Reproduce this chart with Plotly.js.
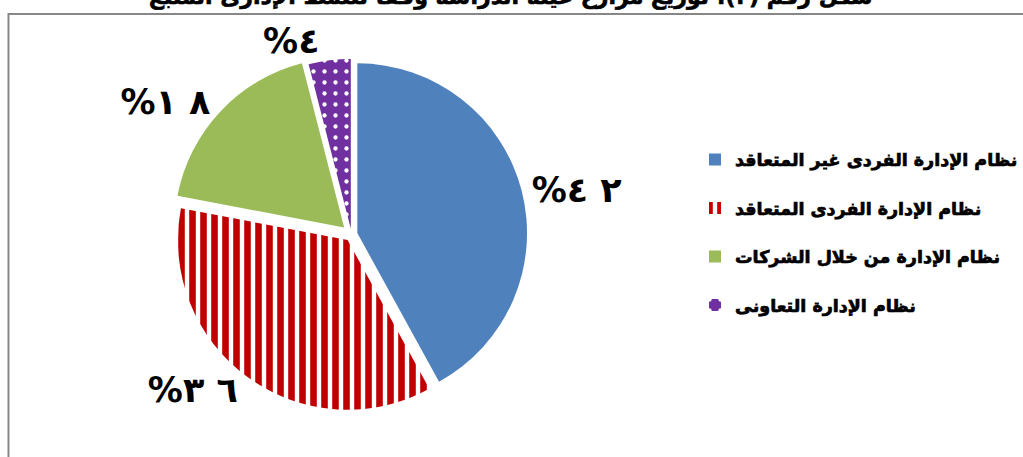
<!DOCTYPE html>
<html>
<head>
<meta charset="utf-8">
<script src="https://cdn.plot.ly/plotly-3.0.1.min.js"></script>
<style>
html,body{margin:0;padding:0;background:#fff;}
#chart{width:1023px;height:457px;}
#chart .legendtext{stroke:#000;stroke-width:0.7px;}
#chart .annotation-text{stroke:#000;stroke-width:0.6px;}
</style>
</head>
<body>
<div id="chart"></div>
<script>
// Data
const categories = [
  "نظام الإدارة الفردى غير المتعاقد",
  "نظام الإدارة الفردى المتعاقد",
  "نظام الإدارة من خلال الشركات",
  "نظام الإدارة التعاونى"
];
const shares = [42, 36, 18, 4];
const sliceColors = ["#4F81BD", "#C00000", "#9BBB59", "#7030A0"];
const chartTitle = "شكل رقم (٣): توزيع مزارع عينة الدراسة وفقاً للنمط الإدارى المتبع";

const arabicDigits = "٠١٢٣٤٥٦٧٨٩";
function toArabicPct(v){
  const d = String(v).split("").map(c => arabicDigits[+c]).join(" ");
  return "\u202D%" + d + "\u202C";
}
const pctText = shares.map(toArabicPct);
const legendLabels = categories.map(c => c + "<br> ");

const FONT = "DejaVu Sans, Arial, sans-serif";

const trace = {
  type: "pie",
  labels: legendLabels,
  values: shares,
  text: pctText,
  textinfo: "text",
  textposition: "outside",
  sort: false,
  direction: "clockwise",
  rotation: 0,
  pull: [0.035, 0.04, 0.06, 0.035],
  hoverinfo: "none",
  domain: {x: [0.168, 0.520], y: [0.0926, 0.881]},
  outsidetextfont: {family: FONT, size: 35, color: "#000", weight: "bold"},
  marker: {
    colors: sliceColors,
    line: {width: 0},
    pattern: {
      shape: ["", "|", "", "."],
      fgcolor: ["#4F81BD", "#C00000", "#9BBB59", "#FFFFFF"],
      bgcolor: ["#4F81BD", "#FFFFFF", "#9BBB59", "#7030A0"],
      fgopacity: 1,
      fillmode: "replace",
      size: [8, 11, 8, 11],
      solidity: [0.5, 0.6, 0.5, 0.12]
    }
  },
  automargin: false
};

const layout = {
  width: 1023, height: 457,
  margin: {l: 0, r: 0, t: 0, b: 0},
  paper_bgcolor: "#fff",
  showlegend: true,
  legend: {
    x: 0.68, y: 0.69, xanchor: "left", yanchor: "top",
    font: {family: FONT, size: 17.5, color: "#000", weight: "bold"},
    valign: "top",
    itemclick: false, itemdoubleclick: false,
    bgcolor: "rgba(0,0,0,0)"
  },
  annotations: [{
    text: chartTitle, showarrow: false,
    xref: "paper", yref: "paper", x: 0.5, y: 1 - 12/457,
    xanchor: "center", yanchor: "bottom",
    font: {family: FONT, size: 22, color: "#000", weight: "bold"}
  }],
  shapes: [{
    type: "rect", xref: "paper", yref: "paper",
    x0: 8.5/1023, x1: 1.05, y0: -0.05, y1: 1 - 14/457,
    line: {color: "#878787", width: 2}, fillcolor: "rgba(0,0,0,0)", layer: "below"
  }]
};

Plotly.newPlot("chart", [trace], layout, {displayModeBar: false, staticPlot: true});
</script>
</body>
</html>
